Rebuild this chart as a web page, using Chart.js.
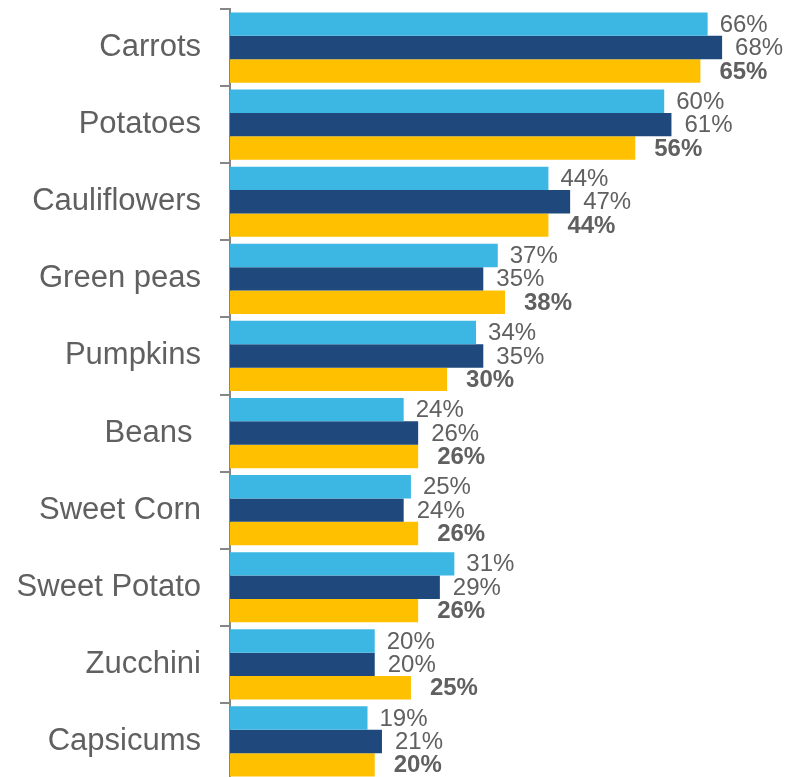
<!DOCTYPE html>
<html>
<head>
<meta charset="utf-8">
<script src="https://cdn.jsdelivr.net/npm/chart.js@4/dist/chart.umd.min.js"></script>
<style>
  html, body { margin: 0; padding: 0; background: #fff; overflow: hidden; }
  #wrap { position: relative; width: 787px; height: 780px; }
</style>
</head>
<body>
<div id="wrap"><canvas id="veg"></canvas></div>
<script>
// Vegetables, share of respondents (%), three survey series
const categories = ['Carrots', 'Potatoes', 'Cauliflowers', 'Green peas', 'Pumpkins',
                    'Beans ', 'Sweet Corn', 'Sweet Potato', 'Zucchini', 'Capsicums'];
const seriesA = [66, 60, 44, 37, 34, 24, 25, 31, 20, 19];
const seriesB = [68, 61, 47, 35, 35, 26, 24, 29, 20, 21];
const seriesC = [65, 56, 44, 38, 30, 26, 26, 26, 25, 20];

const COLOR_SKY    = '#3cb6e3';
const COLOR_NAVY   = '#1f497d';
const COLOR_YELLOW = '#ffc000';
const TEXT_GREY    = '#606060';
const AXIS_GREY    = '#868686';

// per-dataset label gap (px) after the bar end; last series is bold
const LABEL_GAP  = [12, 13, 19];
const LABEL_BOLD = [false, false, true];

const valueLabels = {
  id: 'valueLabels',
  afterDatasetsDraw(chart) {
    const ctx = chart.ctx;
    ctx.save();
    ctx.fillStyle = TEXT_GREY;
    ctx.textAlign = 'left';
    ctx.textBaseline = 'middle';
    chart.data.datasets.forEach((ds, i) => {
      ctx.font = (LABEL_BOLD[i] ? 'bold ' : '') + "24px 'Liberation Sans', Arial, sans-serif";
      chart.getDatasetMeta(i).data.forEach((bar, j) => {
        ctx.fillText(ds.data[j] + '%', bar.x + LABEL_GAP[i], bar.y + 1);
      });
    });
    ctx.restore();
  }
};

function makeDataset(label, color, data) {
  return {
    label,
    data,
    backgroundColor: color,
    borderWidth: 0,
    categoryPercentage: 0.91,
    barPercentage: 1.0,
  };
}

new Chart(document.getElementById('veg'), {
  type: 'bar',
  data: {
    labels: categories,
    datasets: [
      makeDataset('A', COLOR_SKY, seriesA),
      makeDataset('B', COLOR_NAVY, seriesB),
      makeDataset('C', COLOR_YELLOW, seriesC),
    ],
  },
  options: {
    indexAxis: 'y',
    responsive: true,
    maintainAspectRatio: false,
    animation: false,
    devicePixelRatio: 1,
    layout: { padding: { top: 9, right: 7, bottom: 0, left: 0 } },
    plugins: {
      legend: { display: false },
      tooltip: { enabled: false },
    },
    scales: {
      x: { display: false, min: 0, max: 76 },
      y: {
        afterFit(scale) {
          // fixed label column; no extra room above/below for the tick labels
          scale.width = 230;
          scale.paddingTop = 0;
          scale.paddingBottom = 0;
        },
        grid: {
          offset: true,
          drawOnChartArea: false,
          drawTicks: true,
          tickLength: 10,
          color: AXIS_GREY,
          lineWidth: 2,
        },
        border: { display: true, color: AXIS_GREY, width: 2 },
        ticks: {
          color: TEXT_GREY,
          padding: 19,
          font: { size: 31, family: "'Liberation Sans', Arial, sans-serif" },
        },
      },
    },
  },
  plugins: [valueLabels],
});
</script>
</body>
</html>
